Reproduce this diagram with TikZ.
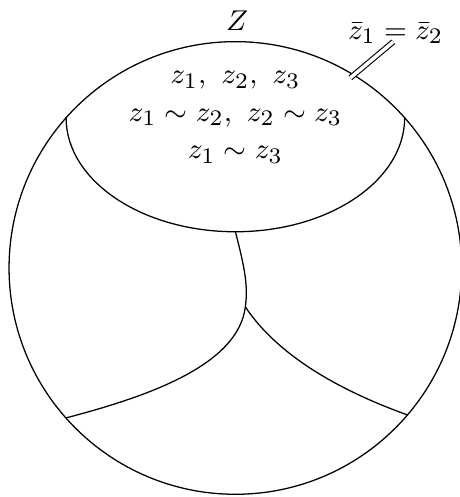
\documentclass[tikz,border=0pt]{standalone}
\usepackage{amsmath}
\usepackage{amssymb}
\usetikzlibrary{calc}
\tikzset{
  wall/.style  = {line width=0.4pt},
  glue/.style  = {double, double distance=1.1pt, line width=0.35pt},
  lbl/.style   = {font=\fontsize{9.5}{11.8}\selectfont, inner sep=1pt}
}

\begin{document}
\begin{tikzpicture}

  \useasboundingbox (-2.60,-2.53) rectangle (2.48,2.96);

  %% ── Points ────────────────────────────────────────────────────
  \coordinate (ctr)  at (0,0);
  \coordinate (capL) at (-1.87,1.66);   % ends of the cap arc
  \coordinate (capB) at (0,0.40);       % lowest point of the cap
  \coordinate (jn)   at (0.11,-0.43);   % triple point
  \coordinate (ftL)  at (221.5:2.5);
  \coordinate (ftR)  at (319.5:2.5);
  \coordinate (bnd)  at (1.27,2.10);    % where the glue mark starts

  %% ── Outer sphere ──────────────────────────────────────────────
  \draw[wall] (ctr) circle (2.5);

  %% ── Cap ───────────────────────────────────────────────────────
  \draw[wall] (capL) arc[start angle=180, end angle=360,
                         x radius=1.87, y radius=1.26];

  %% ── Inner walls ───────────────────────────────────────────────
  \draw[wall] (capB) .. controls +(0.11,-0.42) and +(0.03,0.22) .. (jn)
                     .. controls +(-0.08,-0.64) and +(0.92,0.24) .. (ftL);
  \draw[wall] (jn) .. controls +(0.28,-0.42) and +(-0.97,0.35) .. (ftR);

  %% ── Labels ────────────────────────────────────────────────────
  \node[lbl] (zlab) at (0.02,2.73) {$Z$};
  \node[lbl, align=center] (zset) at (0,1.665)
    {$z_1,\ z_2,\ z_3$\\
     $z_1\sim z_2,\ z_2\sim z_3$\\
     $z_1\sim z_3$};
  \node[lbl] (eq) at (1.77,2.59) {$\bar{z}_1=\bar{z}_2$};

  %% ── Glue mark ─────────────────────────────────────────────────
  \draw[glue] (bnd) -- ++(40:0.62);

\end{tikzpicture}
\end{document}
